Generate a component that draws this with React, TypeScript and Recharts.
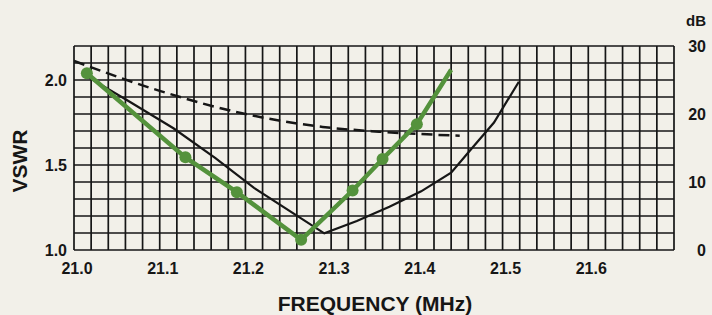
import React from 'react';
import { LineChart, Line, XAxis, YAxis, CartesianGrid } from 'recharts';

if (typeof document !== 'undefined') {
  document.body.style.margin = '0';
  document.body.style.background = '#f2f0e9';
}

// grid ticks (one cell = 0.02 MHz / 0.1 VSWR)
const freqGridTicks = [
  21.0, 21.02, 21.04, 21.06, 21.08, 21.1, 21.12, 21.14, 21.16, 21.18,
  21.2, 21.22, 21.24, 21.26, 21.28, 21.3, 21.32, 21.34, 21.36, 21.38,
  21.4, 21.42, 21.44, 21.46, 21.48, 21.5, 21.52, 21.54, 21.56, 21.58,
  21.6, 21.62, 21.64, 21.66, 21.68, 21.7,
];
const vswrGridTicks = [1.0, 1.1, 1.2, 1.3, 1.4, 1.5, 1.6, 1.7, 1.8, 1.9, 2.0, 2.1, 2.2];
const freqLabels = [21.0, 21.1, 21.2, 21.3, 21.4, 21.5, 21.6];
const vswrLabels = [1.0, 1.5, 2.0];
const dbTicks = [0, 10, 20, 30];

// measured VSWR (green, with dots)
const measuredFreq = [21.015, 21.13, 21.19, 21.265, 21.325, 21.36, 21.4, 21.44];
const measuredVswr = [2.04, 1.545, 1.34, 1.06, 1.35, 1.535, 1.74, 2.06];

// second VSWR curve (black solid)
const computedFreq = [21.012, 21.064, 21.116, 21.165, 21.21, 21.292, 21.33, 21.368, 21.405, 21.44, 21.462, 21.49, 21.519];
const computedVswr = [2.03, 1.875, 1.716, 1.54, 1.365, 1.098, 1.17, 1.255, 1.345, 1.455, 1.585, 1.75, 1.99];

// dB curve (black dashed, right axis)
const dbFreq = [21.0, 21.1, 21.2, 21.29, 21.356, 21.45];
const dbValues = [27.8, 23.4, 20.0, 18.1, 17.4, 16.8];

const measuredData = measuredFreq.map((f, i) => ({ f, v: measuredVswr[i] }));
const computedData = computedFreq.map((f, i) => ({ f, v: computedVswr[i] }));
const dbData = dbFreq.map((f, i) => ({ f, d: dbValues[i] }));

const FONT = '"Liberation Sans", Arial, Helvetica, sans-serif';
const INK = '#161616';
const GREEN = '#54923c';

const near = (arr: number[], v: number) => arr.some((a) => Math.abs(a - v) < 1e-6);

const XTick = (props: any) => {
  const { x, y, payload } = props;
  if (!near(freqLabels, payload.value)) return <g />;
  return (
    <text x={x + 3} y={y + 5} dy="0.71em" textAnchor="middle" fontFamily={FONT} fontWeight="bold" fontSize={16} fill={INK}>
      {payload.value.toFixed(1)}
    </text>
  );
};

const LeftTick = (props: any) => {
  const { x, y, payload } = props;
  if (!near(vswrLabels, payload.value)) return <g />;
  return (
    <text x={x + 1} y={y} dy="0.355em" textAnchor="end" fontFamily={FONT} fontWeight="bold" fontSize={16} fill={INK}>
      {payload.value.toFixed(1)}
    </text>
  );
};

const RightTick = (props: any) => {
  const { x, y, payload } = props;
  return (
    <text x={x + 24} y={y} dy="0.355em" textAnchor="end" fontFamily={FONT} fontWeight="bold" fontSize={16} fill={INK}>
      {payload.value}
    </text>
  );
};

const GreenDot = (props: any) => {
  const { cx, cy, index } = props;
  if (index === measuredData.length - 1) return <g key={`gd-${index}`} />;
  return <circle key={`gd-${index}`} cx={cx} cy={cy} r={6} fill={GREEN} stroke="none" />;
};

export default function App() {
  return (
    <div style={{ width: 712, height: 315, background: '#f2f0e9' }}>
      <LineChart width={712} height={315} margin={{ top: 46, right: 0, bottom: 0, left: 0 }}>
        <CartesianGrid yAxisId="vswr" stroke={INK} strokeWidth={1.7} />
        <XAxis
          type="number"
          dataKey="f"
          domain={[21.0, 21.7]}
          ticks={freqGridTicks}
          interval={0}
          height={65}
          axisLine={false}
          tickLine={false}
          tick={<XTick />}
          allowDataOverflow
          label={{
            content: (p: any) => {
              const vb = p.viewBox;
              return (
                <text x={vb.x + vb.width / 2 + 1} y={vb.y + 61} textAnchor="middle" fontFamily={FONT} fontWeight="bold" fontSize={21} fill={INK}>
                  FREQUENCY (MHz)
                </text>
              );
            },
          }}
        />
        <YAxis
          yAxisId="vswr"
          type="number"
          domain={[1.0, 2.2]}
          ticks={vswrGridTicks}
          interval={0}
          width={74}
          axisLine={false}
          tickLine={false}
          tick={<LeftTick />}
          allowDataOverflow
          label={{
            content: () => (
              <text x={27} y={161} transform="rotate(-90 27 161)" textAnchor="middle" fontFamily={FONT} fontWeight="bold" fontSize={21} fill={INK}>
                VSWR
              </text>
            ),
          }}
        />
        <YAxis
          yAxisId="db"
          orientation="right"
          type="number"
          domain={[0, 30]}
          ticks={dbTicks}
          interval={0}
          width={38}
          axisLine={false}
          tickLine={false}
          tick={<RightTick />}
          label={{
            content: (p: any) => {
              const vb = p.viewBox;
              return (
                <text x={vb.x + vb.width - 6} y={vb.y - 20} textAnchor="end" fontFamily={FONT} fontWeight="bold" fontSize={15} fill={INK}>
                  dB
                </text>
              );
            },
          }}
        />
        <Line
          yAxisId="db"
          data={dbData}
          dataKey="d"
          type="monotone"
          stroke={INK}
          strokeWidth={2.5}
          strokeDasharray="11 6"
          dot={false}
          isAnimationActive={false}
        />
        <Line
          yAxisId="vswr"
          data={computedData}
          dataKey="v"
          type="linear"
          stroke={INK}
          strokeWidth={2.2}
          dot={false}
          isAnimationActive={false}
        />
        <Line
          yAxisId="vswr"
          data={measuredData}
          dataKey="v"
          type="linear"
          stroke={GREEN}
          strokeWidth={4.5}
          dot={<GreenDot />}
          isAnimationActive={false}
        />
      </LineChart>
    </div>
  );
}
